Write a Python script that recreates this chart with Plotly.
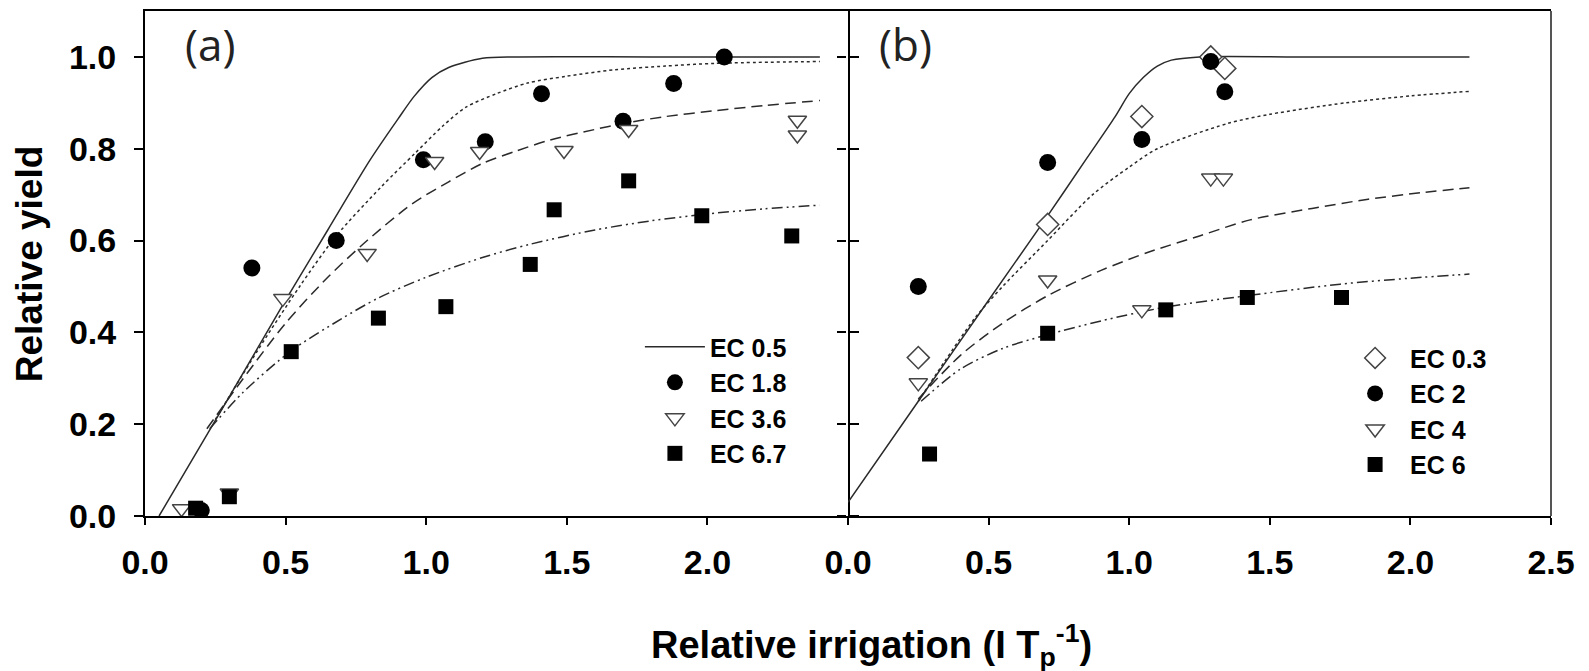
import plotly.graph_objects as go

# ---------------- Panel (a) observations ----------------
a_ec18_x = [0.20, 0.38, 0.68, 0.99, 1.21, 1.41, 1.70, 1.88, 2.06]
a_ec18_y = [0.012, 0.54, 0.60, 0.776, 0.815, 0.92, 0.86, 0.942, 1.00]
a_ec36_x = [0.13, 0.30, 0.49, 0.79, 1.03, 1.19, 1.49, 1.72, 2.32, 2.32]
a_ec36_y = [0.016, 0.05, 0.474, 0.572, 0.772, 0.794, 0.796, 0.842, 0.862, 0.830]
a_ec67_x = [0.18, 0.30, 0.52, 0.83, 1.07, 1.37, 1.455, 1.72, 1.98, 2.30]
a_ec67_y = [0.017, 0.042, 0.358, 0.431, 0.456, 0.548, 0.667, 0.730, 0.654, 0.610]

# Panel (a) fitted curves
a_fit05_x = [0.05, 0.30, 0.50, 0.65, 0.80, 0.90, 0.957, 1.02, 1.08, 1.20, 1.32, 1.80, 2.40]
a_fit05_y = [0.00, 0.26, 0.47, 0.623, 0.775, 0.865, 0.914, 0.955, 0.977, 0.997, 1.00, 1.00, 1.00]
a_fit18_x = [0.25, 0.40, 0.55, 0.68, 0.84, 0.96, 1.06, 1.14, 1.25, 1.36, 1.50, 1.67, 1.85, 2.03, 2.40]
a_fit18_y = [0.21, 0.36, 0.50, 0.61, 0.717, 0.79, 0.85, 0.89, 0.92, 0.943, 0.958, 0.972, 0.98, 0.986, 0.99]
a_fit36_x = [0.22, 0.35, 0.50, 0.65, 0.79, 0.95, 1.08, 1.20, 1.32, 1.44, 1.60, 1.70, 1.85, 2.03, 2.20, 2.40]
a_fit36_y = [0.19, 0.30, 0.42, 0.52, 0.60, 0.68, 0.728, 0.768, 0.795, 0.819, 0.842, 0.855, 0.87, 0.883, 0.894, 0.905]
a_fit67_x = [0.23, 0.35, 0.52, 0.70, 0.83, 1.00, 1.20, 1.37, 1.60, 1.80, 2.00, 2.20, 2.40]
a_fit67_y = [0.19, 0.27, 0.36, 0.43, 0.475, 0.52, 0.563, 0.592, 0.623, 0.643, 0.658, 0.669, 0.677]

# ---------------- Panel (b) observations ----------------
b_ec03_x = [0.25, 0.71, 1.045, 1.29, 1.34]
b_ec03_y = [0.345, 0.635, 0.87, 1.00, 0.975]
b_ec2_x = [0.25, 0.71, 1.045, 1.29, 1.34]
b_ec2_y = [0.50, 0.77, 0.82, 0.99, 0.924]
b_ec4_x = [0.25, 0.71, 1.045, 1.29, 1.335]
b_ec4_y = [0.29, 0.514, 0.449, 0.736, 0.736]
b_ec6_x = [0.29, 0.71, 1.13, 1.42, 1.755]
b_ec6_y = [0.135, 0.398, 0.449, 0.476, 0.476]

# Panel (b) fitted curves
b_fit03_x = [0.00, 0.25, 0.50, 0.70, 0.85, 0.95, 1.00, 1.05, 1.10, 1.15, 1.25, 1.60, 2.21]
b_fit03_y = [0.03, 0.25, 0.47, 0.645, 0.78, 0.87, 0.92, 0.955, 0.98, 0.993, 1.00, 1.00, 1.00]
b_fit2_x = [0.25, 0.45, 0.55, 0.71, 0.87, 1.00, 1.10, 1.35, 1.50, 1.77, 2.00, 2.21]
b_fit2_y = [0.25, 0.43, 0.50, 0.60, 0.70, 0.76, 0.80, 0.855, 0.875, 0.90, 0.915, 0.925]
b_fit4_x = [0.25, 0.40, 0.55, 0.71, 0.90, 1.07, 1.25, 1.43, 1.65, 1.85, 2.05, 2.21]
b_fit4_y = [0.255, 0.35, 0.42, 0.48, 0.535, 0.575, 0.61, 0.645, 0.67, 0.69, 0.705, 0.715]
b_fit6_x = [0.26, 0.40, 0.55, 0.71, 0.90, 1.13, 1.42, 1.75, 2.00, 2.21]
b_fit6_y = [0.25, 0.32, 0.365, 0.395, 0.425, 0.455, 0.48, 0.505, 0.518, 0.527]

tick_vals_a = [0, 0.5, 1.0, 1.5, 2.0]
tick_vals_b = [0, 0.5, 1.0, 1.5, 2.0, 2.5]
y_ticks = [0, 0.2, 0.4, 0.6, 0.8, 1.0]

FONT = "Liberation Sans, Arial, sans-serif"
LINE_C = "#2a2a2a"
DOT = "dot"
DASH = "11px,6px"
DASHDOT = "11px,4px,2px,4px,2px,4px"

fig = go.Figure()

def line(x, y, dash, xa, ya, name=None, legend=None, show=False, width=1.5):
    fig.add_trace(go.Scatter(
        x=x, y=y, mode="lines", xaxis=xa, yaxis=ya, name=name or "",
        line=dict(color=LINE_C, width=width, dash=dash, shape="spline", smoothing=0.8),
        showlegend=show, legend=legend, legendgroup=name, hoverinfo="skip"))

def pts(x, y, symbol, size, xa, ya, name, legend, fill="black", lc="black", lw=0):
    fig.add_trace(go.Scatter(
        x=x, y=y, mode="markers", xaxis=xa, yaxis=ya, name=name,
        marker=dict(symbol=symbol, size=size, color=fill, line=dict(color=lc, width=lw)),
        showlegend=True, legend=legend, legendgroup=name))

# panel a
line(a_fit05_x, a_fit05_y, "solid", "x", "y", name="EC 0.5", legend="legend", show=True)
line(a_fit18_x, a_fit18_y, DOT, "x", "y")
line(a_fit36_x, a_fit36_y, DASH, "x", "y")
line(a_fit67_x, a_fit67_y, DASHDOT, "x", "y")
pts(a_ec18_x, a_ec18_y, "circle", 17, "x", "y", "EC 1.8", "legend")
pts(a_ec36_x, a_ec36_y, "triangle-down", 16, "x", "y", "EC 3.6", "legend", fill="white", lc="#444", lw=1.5)
pts(a_ec67_x, a_ec67_y, "square", 15, "x", "y", "EC 6.7", "legend")

# panel b
line(b_fit03_x, b_fit03_y, "solid", "x2", "y2")
line(b_fit2_x, b_fit2_y, DOT, "x2", "y2")
line(b_fit4_x, b_fit4_y, DASH, "x2", "y2")
line(b_fit6_x, b_fit6_y, DASHDOT, "x2", "y2")
pts(b_ec03_x, b_ec03_y, "diamond", 17, "x2", "y2", "EC 0.3", "legend2", fill="white", lc="#444", lw=1.5)
pts(b_ec2_x, b_ec2_y, "circle", 17, "x2", "y2", "EC 2", "legend2")
pts(b_ec4_x, b_ec4_y, "triangle-down", 16, "x2", "y2", "EC 4", "legend2", fill="white", lc="#444", lw=1.5)
pts(b_ec6_x, b_ec6_y, "square", 15, "x2", "y2", "EC 6", "legend2")

tickfont = dict(family=FONT, size=34, color="black", weight="bold")
axis_common = dict(showgrid=False, zeroline=False, showline=True,
                   linewidth=2, ticks="outside", tickcolor="black", tickwidth=1.5)

legfont = dict(family=FONT, size=25, weight="bold", color="black")

fig.update_layout(
    width=1589, height=671,
    margin=dict(l=145, r=38, t=9, b=155),
    paper_bgcolor="white", plot_bgcolor="white",
    font=dict(family=FONT, color="black"),
    xaxis=dict(domain=[0, 0.5], range=[0, 2.5], tickvals=tick_vals_a,
               ticktext=[f"{v:.1f}" for v in tick_vals_a], ticklen=7,
               ticklabelstandoff=8, tickfont=tickfont, mirror=True, anchor="y",
               linecolor="black", **axis_common),
    yaxis=dict(domain=[0, 1], range=[0, 1.1], tickvals=y_ticks,
               ticktext=[f"{v:.1f}" for v in y_ticks], ticklen=9,
               ticklabelstandoff=11, tickfont=tickfont, mirror="ticks", anchor="x",
               linecolor="black", **axis_common),
    xaxis2=dict(domain=[0.5, 1], range=[0, 2.5], tickvals=tick_vals_b,
                ticktext=[f"{v:.1f}" for v in tick_vals_b], ticklen=7,
                ticklabelstandoff=8, tickfont=tickfont, mirror=True, anchor="y2",
                linecolor="black", **axis_common),
    yaxis2=dict(domain=[0, 1], range=[0, 1.1], tickvals=y_ticks, showticklabels=False,
                ticklen=9, mirror=False, anchor="x2", linecolor="rgba(0,0,0,0)",
                **axis_common),
    shapes=[dict(type="line", xref="x2 domain", yref="y2 domain", x0=1, x1=1, y0=0, y1=1,
                 line=dict(color="#555", width=2))],
    legend=dict(x=0.352, y=0.38, xanchor="left", yanchor="top", bgcolor="rgba(0,0,0,0)",
                font=legfont, itemwidth=60, traceorder="grouped", tracegroupgap=0),
    legend2=dict(x=0.85, y=0.358, xanchor="left", yanchor="top", bgcolor="rgba(0,0,0,0)",
                 font=legfont, itemwidth=60, traceorder="grouped", tracegroupgap=0),
    annotations=[
        dict(text="(a)", xref="paper", yref="paper", x=0.046, y=0.935,
             xanchor="center", yanchor="middle", showarrow=False,
             font=dict(family="Open Sans, sans-serif", size=44, color="#222")),
        dict(text="(b)", xref="paper", yref="paper", x=0.541, y=0.935,
             xanchor="center", yanchor="middle", showarrow=False,
             font=dict(family="Open Sans, sans-serif", size=44, color="#222")),
        dict(text="Relative yield", xref="paper", yref="paper", x=-0.082, y=0.5,
             xanchor="center", yanchor="middle", textangle=-90, showarrow=False,
             font=dict(family=FONT, size=37, weight="bold", color="black")),
        dict(text="Relative irrigation (I T<sub>p</sub><sup>-1</sup>)", xref="paper", yref="paper",
             x=0.517, y=-0.255, xanchor="center", yanchor="middle", showarrow=False,
             font=dict(family=FONT, size=38, weight="bold", color="black")),
    ],
)

fig.write_html("out.html")
